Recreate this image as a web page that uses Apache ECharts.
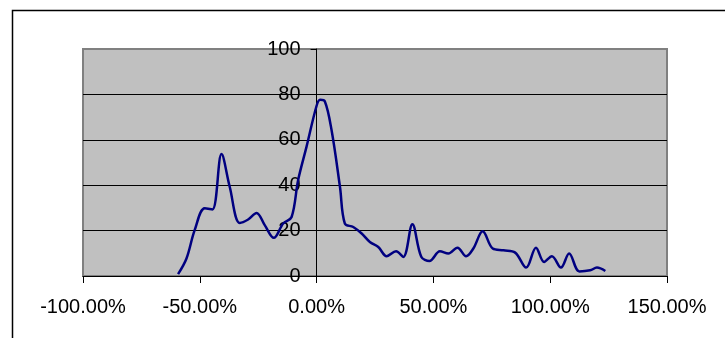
<!DOCTYPE html>
<html lang="en">
<head>
	<meta charset="UTF-8">
	<title>chart</title>
	<script type="text/javascript" src="https://cdn.jsdelivr.net/npm/echarts@6/dist/echarts.min.js"></script>
	<style type="text/css">
	html, body{margin: 0; padding: 0; background: #fff;}
	#container{width: 725px; height: 338px;}
	</style>
</head>
<body>
	<div id="container"></div>
	<script type="text/javascript">
		// x in percent, y in value
		var xPct = [-59.3, -55.7, -52.2, -47.9, -44.6, -40.7, -37.2, -32.9, -29.3, -25.7, -22.2, -18.3,
			-14.3, -10.7, -7.9, -4.3, 0, 1.5, 3.5, 6.4, 10, 12.1, 15.7, 19.3, 22.8, 26.4, 30, 34, 37.1,
			41, 44.8, 48.3, 52.8, 56.4, 60.3, 64, 67.1, 71.1, 75.4, 80, 85, 89.7, 93.9, 97.4, 100.7,
			104.6, 108.1, 112.5, 117.1, 120, 123.6];
		var yVals = [0.8, 7.7, 20.2, 29.8, 29.3, 53.7, 39.3, 23.4, 24.9, 27.8, 22.4, 16.8,
			23.1, 26, 42.3, 57, 75, 77.6, 77, 64.3, 39.3, 23.1, 21.6, 18.7, 15, 12.8, 8.7, 10.9, 8.4,
			22.8, 8.5, 6.6, 10.9, 9.9, 12.5, 8.7, 12.1, 19.7, 12.1, 11.3, 10.3, 3.7, 12.5, 6.2, 8.7,
			3.7, 9.9, 2, 2.5, 3.7, 2.2];
		var xTicks = [-100, -50, 0, 50, 100, 150];
		var yTicks = [0, 20, 40, 60, 80, 100];

		var points = [];
		for (var i = 0; i < xPct.length; i++) {
			points.push([xPct[i], yVals[i]]);
		}

		var dom = document.getElementById("container");
		var myChart = echarts.init(dom);
		var font = '"Liberation Sans", Arial, sans-serif';
		var gridLeft = 83, gridRight = 58;
		var plotW = 725 - gridLeft - gridRight;
		// y axis crosses at x = 0%
		var yOffset = -plotW * (0 - xTicks[0]) / (xTicks[xTicks.length - 1] - xTicks[0]);
		var option = {
			animation: false,
			graphic: [{
				type: 'rect',
				shape: {x: 12.5, y: 10.5, width: 800, height: 400},
				style: {fill: 'none', stroke: '#000', lineWidth: 1.5}
			}],
			grid: {
				left: gridLeft,
				right: gridRight,
				top: 49,
				bottom: 62,
				show: true,
				backgroundColor: '#c0c0c0',
				borderColor: '#808080',
				borderWidth: 2
			},
			xAxis: {
				type: 'value',
				min: xTicks[0],
				max: xTicks[xTicks.length - 1],
				interval: 50,
				axisLine: {show: true, lineStyle: {color: '#000', width: 1}},
				axisTick: {show: true, length: 7, lineStyle: {color: '#000'}},
				splitLine: {show: false},
				axisLabel: {
					margin: 21,
					color: '#000',
					fontSize: 20,
					fontFamily: font,
					formatter: function(v){ return v.toFixed(2) + '%'; }
				}
			},
			yAxis: {
				type: 'value',
				position: 'left',
				offset: yOffset,
				min: yTicks[0],
				max: yTicks[yTicks.length - 1],
				interval: 20,
				axisLine: {show: true, onZero: false, lineStyle: {color: '#000', width: 1}},
				axisTick: {show: true, length: 6, lineStyle: {color: '#000'}},
				splitLine: {show: true, showMaxLine: false, lineStyle: {color: '#000', width: 1}},
				axisLabel: {
					margin: 16,
					color: '#000',
					fontSize: 20,
					fontFamily: font
				}
			},
			series: [{
				type: 'line',
				data: points,
				smooth: 0.35,
				showSymbol: false,
				lineStyle: {color: '#000080', width: 2.5}
			}]
		};
		myChart.setOption(option);
	</script>
</body>
</html>
